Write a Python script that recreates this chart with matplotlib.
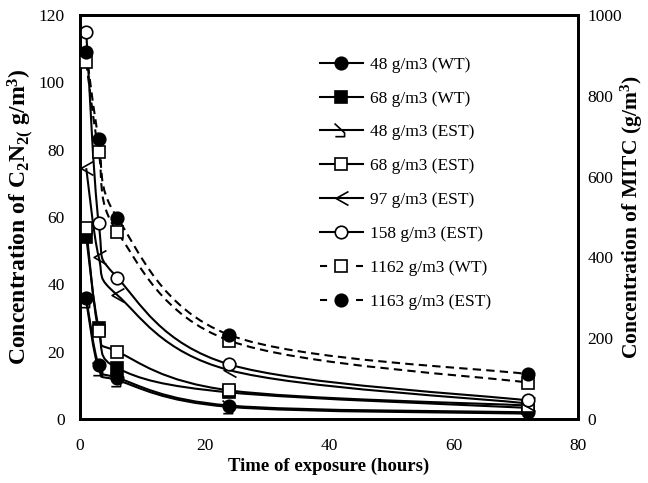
import numpy as np
import matplotlib
matplotlib.use("Agg")
import matplotlib.pyplot as plt
from matplotlib.path import Path
from matplotlib.patches import PathPatch
from matplotlib.lines import Line2D

plt.rcParams['font.family'] = ['Liberation Serif', 'DejaVu Serif']
plt.rcParams['mathtext.fontset'] = 'custom'
plt.rcParams['mathtext.rm'] = 'Liberation Serif'
plt.rcParams['mathtext.it'] = 'Liberation Serif:italic'
plt.rcParams['mathtext.bf'] = 'Liberation Serif:bold'

# ---- data ----
hours = [1, 3, 6, 24, 72]
wt48 = [36, 16, 12.2, 4.0, 2.0]
wt68 = [54.1, 27.1, 15.1, 7.9, 3.3]
est48 = [35, 15, 11.5, 3.6, 1.6]
est68 = [56.7, 26, 20.0, 8.5, 4.0]
est97 = [74.5, 48.2, 36.8, 14.5, 4.6]
est158 = [115, 58.2, 42.0, 16.2, 5.5]
mitc_wt1162 = [883, 662, 463, 194, 90]
mitc_est1163 = [908, 693, 498, 208, 111]

labels = ["48 g/m3 (WT)", "68 g/m3 (WT)", "48 g/m3 (EST)", "68 g/m3 (EST)",
          "97 g/m3 (EST)", "158 g/m3 (EST)", "1162 g/m3 (WT)", "1163 g/m3 (EST)"]
x_ticks = [0, 20, 40, 60, 80]
y_ticks = [0, 20, 40, 60, 80, 100, 120]
y2_ticks = [0, 200, 400, 600, 800, 1000]

# custom markers
hook = Path([(-0.45, 0.45), (0.2, -0.15), (0.2, -0.4), (-0.4, -0.4)],
            [Path.MOVETO, Path.LINETO, Path.LINETO, Path.LINETO])
caret = Path([(0.45, 0.45), (-0.35, 0.0), (0.45, -0.45)],
             [Path.MOVETO, Path.LINETO, Path.LINETO])


def smooth_path(xs, ys):
    xs = np.asarray(xs, float)
    ys = np.asarray(ys, float)
    P = np.column_stack([xs, ys])
    n = len(P)
    verts = [P[0]]
    codes = [Path.MOVETO]
    for i in range(n - 1):
        p0 = P[i - 1] if i > 0 else P[i]
        p1 = P[i]
        p2 = P[i + 1]
        p3 = P[i + 2] if i + 2 < n else P[i + 1]
        c1 = p1 + (p2 - p0) / 6.0
        c2 = p2 - (p3 - p1) / 6.0
        verts += [c1, c2, p2]
        codes += [Path.CURVE4] * 3
    return Path(verts, codes)


fig = plt.figure(figsize=(6.48, 4.83), dpi=100)
ax = fig.add_axes([80 / 648, 1 - 419 / 483, 498 / 648, 404 / 483])
ax2 = ax.twinx()

series_left = [
    (wt48, 'o', 'black', '-'),
    (wt68, 's', 'black', '-'),
    (est48, hook, 'none', '-'),
    (est68, 's', 'white', '-'),
    (est97, caret, 'none', '-'),
    (est158, 'o', 'white', '-'),
]
series_right = [
    (mitc_wt1162, 's', 'white'),
    (mitc_est1163, 'o', 'black'),
]
dash_plot = (0, (4, 2.5))
dash_legend = (0, (3.4, 13.9))

handles = []
for (vals, mk, fc, ls), lab in zip(series_left, labels[:6]):
    ax.add_patch(PathPatch(smooth_path(hours, vals), fill=False, lw=1.5,
                           ec='black', ls=ls, zorder=2))
    ms = 9 if mk in ('o', 's') else 10
    ax.plot(hours, vals, ls='none', marker=mk, ms=ms, mfc=fc, mec='black',
            mew=1.2, zorder=3)
    handles.append(Line2D([], [], color='black', lw=1.5, ls=ls, marker=mk,
                          ms=ms, mfc=fc, mec='black', mew=1.2, label=lab))
for (vals, mk, fc), lab in zip(series_right, labels[6:]):
    ax2.add_patch(PathPatch(smooth_path(hours, vals), fill=False, lw=1.5,
                            ec='black', ls=dash_plot, zorder=2))
    ax2.plot(hours, vals, ls='none', marker=mk, ms=9, mfc=fc, mec='black',
             mew=1.2, zorder=3)
    handles.append(Line2D([], [], color='black', lw=1.5, ls=dash_legend,
                          marker=mk, ms=9, mfc=fc, mec='black', mew=1.2,
                          label=lab))

ax.set_xlim(0, 80)
ax.set_ylim(0, 120)
ax2.set_ylim(0, 1000)
ax.set_xticks(x_ticks)
ax.set_yticks(y_ticks)
ax2.set_yticks(y2_ticks)
ax.tick_params(axis='x', length=0, labelsize=12.5, pad=14)
ax.tick_params(axis='y', length=0, labelsize=12.5, pad=11)
ax2.tick_params(axis='y', length=0, labelsize=12.5, pad=7)
for a in (ax, ax2):
    for s in a.spines.values():
        s.set_linewidth(2)

ax.set_xlabel("Time of exposure (hours)", fontsize=13.5, fontweight='bold',
              labelpad=2)
ax.set_ylabel(r"Concentration of C$_\mathbf{2}$N$_\mathbf{2(}$ g/m$^\mathbf{3}$)",
              fontsize=17, fontweight='bold')
ax.yaxis.set_label_coords(-0.088, 0.5)
ax2.set_ylabel(r"Concentration of MITC (g/m$^\mathbf{3}$)", fontsize=15.5,
               fontweight='bold')
ax2.yaxis.set_label_coords(1.082, 0.5)

fig.legend(handles=handles, loc='upper left',
           bbox_to_anchor=(304 / 648, 1 - 41 / 483), frameon=False,
           fontsize=12.5, labelspacing=1.02, handlelength=2.5,
           handletextpad=0.4, borderpad=0.4)

fig.savefig("out.png", dpi=100)
